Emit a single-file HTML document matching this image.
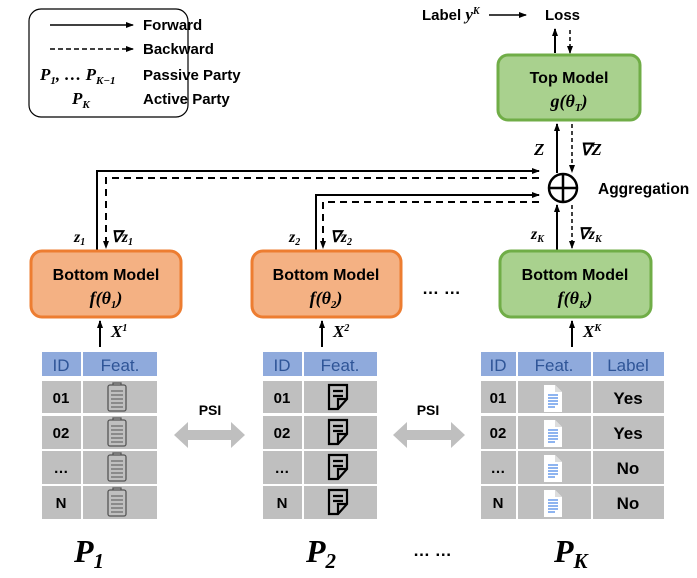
<!DOCTYPE html>
<html><head><meta charset="utf-8"><style>
body{margin:0;background:#fff}
text{font-family:"Liberation Sans",sans-serif}
.b{font-weight:bold}
.m{font-family:"Liberation Serif",serif;font-weight:bold;font-style:italic}
</style></head><body>
<svg width="697" height="573" viewBox="0 0 697 573" xmlns="http://www.w3.org/2000/svg">
<defs>
<marker id="a" markerWidth="8" markerHeight="8" refX="7" refY="4" orient="auto" markerUnits="userSpaceOnUse"><path d="M0,1 L8,4 L0,7 z" fill="#000"/></marker>
<g id="clip"><rect x="-9" y="-12" width="18" height="26" rx="2" fill="none" stroke="#555" stroke-width="1.3"/><path d="M-4,-12 v-2 h8 v2" fill="none" stroke="#555" stroke-width="1.3"/><path d="M-6,-6h12M-6,-2h12M-6,2h12M-6,6h12M-6,10h12" stroke="#555" stroke-width="1"/></g>
<g id="note"><path d="M-9,-12 h18 v14 l-9,10 h-9 z" fill="none" stroke="#000" stroke-width="2.2"/><path d="M0,12 v-10 h9" fill="none" stroke="#000" stroke-width="2.2"/><path d="M-5,-6h10M-5,-1h10" stroke="#000" stroke-width="2.2"/></g>
<g id="doc"><path d="M-9,-13 h11 l7,7 v20 h-18 z" fill="#fff"/><path d="M2,-13 v7 h7" fill="#ddd"/><path d="M-5,-3h10M-5,0h10M-5,3h10M-5,6h10M-5,9h7" stroke="#4a86e8" stroke-width="1.3"/></g>
</defs>
<!-- legend -->
<rect x="29" y="9" width="159" height="108" rx="12" fill="none" stroke="#000" stroke-width="1.2"/>
<line x1="50" y1="25" x2="133" y2="25" stroke="#000" stroke-width="1.5" marker-end="url(#a)"/>
<text x="143" y="30" class="b" font-size="15">Forward</text>
<line x1="50" y1="49" x2="133" y2="49" stroke="#000" stroke-width="1.5" stroke-dasharray="5,3" marker-end="url(#a)"/>
<text x="143" y="54" class="b" font-size="15">Backward</text>
<text x="40" y="80" class="m" font-size="17">P<tspan font-size="11" dy="4">1</tspan><tspan dy="-4">, … P</tspan><tspan font-size="11" dy="4">K−1</tspan></text>
<text x="143" y="80" class="b" font-size="15">Passive Party</text>
<text x="72" y="104" class="m" font-size="17">P<tspan font-size="11" dy="4">K</tspan></text>
<text x="143" y="104" class="b" font-size="15">Active Party</text>
<!-- top -->
<text x="422" y="20" class="b" font-size="15">Label <tspan class="m" font-size="17">y</tspan><tspan class="m" font-size="10" dy="-6">K</tspan></text>
<line x1="489" y1="15" x2="526" y2="15" stroke="#000" stroke-width="1.5" marker-end="url(#a)"/>
<text x="545" y="20" class="b" font-size="15">Loss</text>
<line x1="555" y1="53" x2="555" y2="29" stroke="#000" stroke-width="2" marker-end="url(#a)"/>
<line x1="570" y1="30" x2="570" y2="53" stroke="#000" stroke-width="1.5" stroke-dasharray="4,3" marker-end="url(#a)"/>
<rect x="498" y="55" width="142" height="65" rx="10" fill="#a9d18e" stroke="#70ad47" stroke-width="3"/>
<text x="569" y="83" text-anchor="middle" class="b" font-size="16">Top Model</text>
<text x="569" y="107" text-anchor="middle" class="m" font-size="18">g(θ<tspan font-size="11" dy="4">T</tspan><tspan dy="-4">)</tspan></text>
<line x1="557" y1="173" x2="557" y2="124" stroke="#000" stroke-width="2" marker-end="url(#a)"/>
<line x1="572" y1="124" x2="572" y2="172" stroke="#000" stroke-width="1.5" stroke-dasharray="4,3" marker-end="url(#a)"/>
<text x="534" y="155" class="m" font-size="17">Z</text>
<text x="580" y="155" class="m" font-size="17">∇Z</text>
<circle cx="563" cy="188" r="14" fill="#fff" stroke="#000" stroke-width="2.5"/>
<path d="M549,188h28M563,174v28" stroke="#000" stroke-width="2.5"/>
<text x="598" y="194" class="b" font-size="15.5">Aggregation</text>
<!-- connectors -->
<polyline points="97,250 97,171 539,171" fill="none" stroke="#000" stroke-width="2" marker-end="url(#a)"/>
<polyline points="539,178 106,178 106,248" fill="none" stroke="#000" stroke-width="2" stroke-dasharray="7,5" marker-end="url(#a)"/>
<polyline points="316,250 316,195 539,195" fill="none" stroke="#000" stroke-width="2" marker-end="url(#a)"/>
<polyline points="539,202 323,202 323,248" fill="none" stroke="#000" stroke-width="2" stroke-dasharray="7,5" marker-end="url(#a)"/>
<line x1="557" y1="250" x2="557" y2="205" stroke="#000" stroke-width="2" marker-end="url(#a)"/>
<line x1="572" y1="205" x2="572" y2="248" stroke="#000" stroke-width="1.5" stroke-dasharray="4,3" marker-end="url(#a)"/>
<text x="74" y="242" class="m" font-size="16">z<tspan font-size="10" dy="3">1</tspan></text>
<text x="111" y="242" class="m" font-size="16">∇z<tspan font-size="10" dy="3">1</tspan></text>
<text x="289" y="242" class="m" font-size="16">z<tspan font-size="10" dy="3">2</tspan></text>
<text x="330" y="242" class="m" font-size="16">∇z<tspan font-size="10" dy="3">2</tspan></text>
<text x="531" y="239" class="m" font-size="16">z<tspan font-size="10" dy="3">K</tspan></text>
<text x="578" y="239" class="m" font-size="16">∇z<tspan font-size="10" dy="3">K</tspan></text>
<!-- bottom models -->
<rect x="31" y="251" width="150" height="66" rx="11" fill="#f4b183" stroke="#ed7d31" stroke-width="3"/>
<text x="106" y="280" text-anchor="middle" class="b" font-size="16">Bottom Model</text>
<text x="106" y="304" text-anchor="middle" class="m" font-size="18">f(θ<tspan font-size="11" dy="4">1</tspan><tspan dy="-4">)</tspan></text>
<rect x="252" y="251" width="149" height="66" rx="11" fill="#f4b183" stroke="#ed7d31" stroke-width="3"/>
<text x="326" y="280" text-anchor="middle" class="b" font-size="16">Bottom Model</text>
<text x="326" y="304" text-anchor="middle" class="m" font-size="18">f(θ<tspan font-size="11" dy="4">2</tspan><tspan dy="-4">)</tspan></text>
<rect x="500" y="251" width="151" height="66" rx="11" fill="#a9d18e" stroke="#70ad47" stroke-width="3"/>
<text x="575" y="280" text-anchor="middle" class="b" font-size="16">Bottom Model</text>
<text x="575" y="304" text-anchor="middle" class="m" font-size="18">f(θ<tspan font-size="11" dy="4">K</tspan><tspan dy="-4">)</tspan></text>
<text x="422" y="294" class="b" font-size="17">… …</text>
<line x1="100" y1="347" x2="100" y2="321" stroke="#000" stroke-width="2" marker-end="url(#a)"/>
<text x="111" y="337" class="m" font-size="17">X<tspan font-size="10" dy="-6">1</tspan></text>
<line x1="322" y1="347" x2="322" y2="321" stroke="#000" stroke-width="2" marker-end="url(#a)"/>
<text x="333" y="337" class="m" font-size="17">X<tspan font-size="10" dy="-6">2</tspan></text>
<line x1="572" y1="347" x2="572" y2="321" stroke="#000" stroke-width="2" marker-end="url(#a)"/>
<text x="583" y="337" class="m" font-size="17">X<tspan font-size="10" dy="-6">K</tspan></text>
<!-- headers -->
<g font-size="17">
<rect x="42" y="352" width="39" height="24" fill="#8faadc"/><rect x="83" y="352" width="74" height="24" fill="#8faadc"/>
<text x="61" y="371" text-anchor="middle" fill="#2f5597">ID</text><text x="120" y="371" text-anchor="middle" fill="#2f5597">Feat.</text>
<rect x="263" y="352" width="39" height="24" fill="#8faadc"/><rect x="304" y="352" width="73" height="24" fill="#8faadc"/>
<text x="282" y="371" text-anchor="middle" fill="#2f5597">ID</text><text x="340" y="371" text-anchor="middle" fill="#2f5597">Feat.</text>
<rect x="481" y="352" width="35" height="24" fill="#8faadc"/><rect x="518" y="352" width="73" height="24" fill="#8faadc"/><rect x="593" y="352" width="71" height="24" fill="#8faadc"/>
<text x="498" y="371" text-anchor="middle" fill="#2f5597">ID</text><text x="554" y="371" text-anchor="middle" fill="#2f5597">Feat.</text><text x="628" y="371" text-anchor="middle" fill="#2f5597">Label</text>
</g>
<g font-size="15" font-weight="bold">
<g fill="#bfbfbf">
<rect x="42" y="381" width="39" height="32"/><rect x="83" y="381" width="74" height="32"/>
<rect x="42" y="416" width="39" height="33"/><rect x="83" y="416" width="74" height="33"/>
<rect x="42" y="451" width="39" height="33"/><rect x="83" y="451" width="74" height="33"/>
<rect x="42" y="486" width="39" height="33"/><rect x="83" y="486" width="74" height="33"/>
<rect x="263" y="381" width="39" height="32"/><rect x="304" y="381" width="73" height="32"/>
<rect x="263" y="416" width="39" height="33"/><rect x="304" y="416" width="73" height="33"/>
<rect x="263" y="451" width="39" height="33"/><rect x="304" y="451" width="73" height="33"/>
<rect x="263" y="486" width="39" height="33"/><rect x="304" y="486" width="73" height="33"/>
<rect x="481" y="381" width="35" height="32"/><rect x="518" y="381" width="73" height="32"/><rect x="593" y="381" width="71" height="32"/>
<rect x="481" y="416" width="35" height="33"/><rect x="518" y="416" width="73" height="33"/><rect x="593" y="416" width="71" height="33"/>
<rect x="481" y="451" width="35" height="33"/><rect x="518" y="451" width="73" height="33"/><rect x="593" y="451" width="71" height="33"/>
<rect x="481" y="486" width="35" height="33"/><rect x="518" y="486" width="73" height="33"/><rect x="593" y="486" width="71" height="33"/>
</g>
<text x="61" y="403" text-anchor="middle">01</text><text x="61" y="438" text-anchor="middle">02</text><text x="61" y="473" text-anchor="middle">…</text><text x="61" y="508" text-anchor="middle">N</text>
<text x="282" y="403" text-anchor="middle">01</text><text x="282" y="438" text-anchor="middle">02</text><text x="282" y="473" text-anchor="middle">…</text><text x="282" y="508" text-anchor="middle">N</text>
<text x="498" y="403" text-anchor="middle">01</text><text x="498" y="438" text-anchor="middle">02</text><text x="498" y="473" text-anchor="middle">…</text><text x="498" y="508" text-anchor="middle">N</text>
<text x="628" y="404" text-anchor="middle" font-size="17">Yes</text><text x="628" y="439" text-anchor="middle" font-size="17">Yes</text><text x="628" y="474" text-anchor="middle" font-size="17">No</text><text x="628" y="509" text-anchor="middle" font-size="17">No</text>
</g>
<use href="#clip" x="117" y="397"/><use href="#clip" x="117" y="432"/><use href="#clip" x="117" y="467"/><use href="#clip" x="117" y="502"/>
<use href="#note" x="338" y="397"/><use href="#note" x="338" y="432"/><use href="#note" x="338" y="467"/><use href="#note" x="338" y="502"/>
<use href="#doc" x="553" y="398"/><use href="#doc" x="553" y="433"/><use href="#doc" x="553" y="468"/><use href="#doc" x="553" y="503"/>
<!-- PSI -->
<text x="210" y="415" text-anchor="middle" class="b" font-size="14">PSI</text>
<path d="M174,435 L188,422 V430 H231 V422 L245,435 L231,448 V440 H188 V448 Z" fill="#bfbfbf"/>
<text x="428" y="415" text-anchor="middle" class="b" font-size="14">PSI</text>
<path d="M393,435 L407,422 V430 H451 V422 L465,435 L451,448 V440 H407 V448 Z" fill="#bfbfbf"/>
<!-- party labels -->
<text x="74" y="562" class="m" font-size="32">P<tspan font-size="21" dy="6">1</tspan></text>
<text x="306" y="562" class="m" font-size="32">P<tspan font-size="21" dy="6">2</tspan></text>
<text x="413" y="556" class="b" font-size="17">… …</text>
<text x="554" y="562" class="m" font-size="32">P<tspan font-size="21" dy="6">K</tspan></text>
</svg>
</body></html>
